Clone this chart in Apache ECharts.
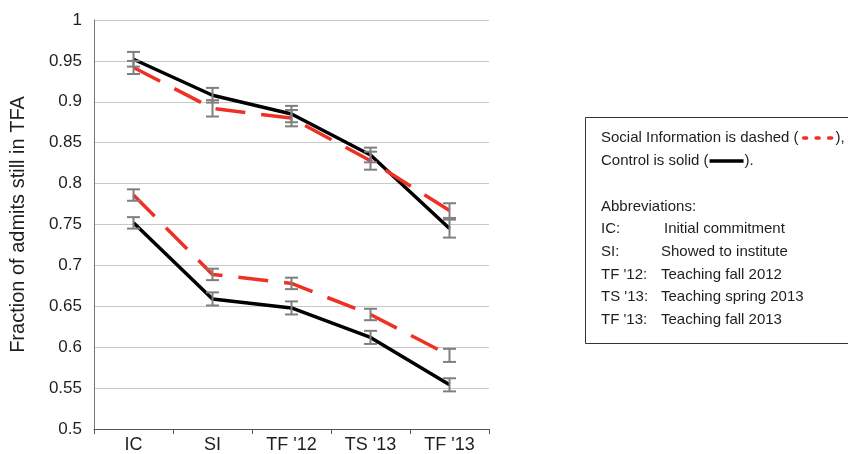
<!DOCTYPE html>
<html>
<head>
<meta charset="utf-8">
<script src="https://cdn.jsdelivr.net/npm/echarts@6/dist/echarts.min.js"></script>
<style>html,body{margin:0;padding:0;background:#fff;}#c{width:848px;height:454px;}</style>
</head>
<body>
<div id="c"></div>
<script>
// ---- data ----
const categories = ['IC', 'SI', "TF '12", "TS '13", "TF '13"];
const socialUpper = [0.942, 0.892, 0.880, 0.828, 0.767];
const socialUpperErr = [0.008, 0.010, 0.010, 0.011, 0.009];
const controlUpper = [0.952, 0.908, 0.885, 0.835, 0.745];
const controlUpperErr = [0.009, 0.009, 0.010, 0.009, 0.011];
const socialLower = [0.786, 0.689, 0.678, 0.640, 0.590];
const socialLowerErr = [0.007, 0.007, 0.007, 0.007, 0.008];
const controlLower = [0.752, 0.659, 0.648, 0.612, 0.554];
const controlLowerErr = [0.007, 0.008, 0.008, 0.008, 0.008];
const yTicks = { min: 0.5, max: 1, interval: 0.05 };
const legendLine1 = 'Social Information is dashed (';
const legendLine2 = 'Control is solid (';
const abbrevTitle = 'Abbreviations:';
const abbrevKeys = ['IC:', 'SI:', "TF '12:", "TS '13:", "TF '13:"];
const abbrevVals = ['Initial commitment', 'Showed to institute', 'Teaching fall 2012', 'Teaching spring 2013', 'Teaching fall 2013'];

// ---- style ----
const FONT = "'Liberation Sans', Arial, Helvetica, sans-serif";
const RED = '#ee3124';
const BLACK = '#000000';
const ERR = '#7f7f7f';
const TXT = '#1e1e1e';

function measure(text, size) {
  const c = document.createElement('canvas').getContext('2d');
  c.font = size + 'px ' + FONT;
  return c.measureText(text).width;
}

function lineSeries(name, data, color, dashed) {
  return {
    type: 'line', name, data, symbol: 'none', z: 3,
    lineStyle: { color, width: 3.5, type: dashed ? [30, 16] : 'solid', cap: 'butt' },
    emphasis: { disabled: true }
  };
}

function errSeries(name, vals, errs) {
  return {
    type: 'custom', name, z: 5,
    renderItem: function (params, api) {
      const i = api.value(0), v = api.value(1), e = api.value(2);
      const hi = api.coord([i, v + e]);
      const lo = api.coord([i, v - e]);
      const hw = 6.5;
      const st = { stroke: ERR, lineWidth: 2 };
      return {
        type: 'group', children: [
          { type: 'line', shape: { x1: hi[0], y1: hi[1], x2: lo[0], y2: lo[1] }, style: st },
          { type: 'line', shape: { x1: hi[0] - hw, y1: hi[1], x2: hi[0] + hw, y2: hi[1] }, style: st },
          { type: 'line', shape: { x1: lo[0] - hw, y1: lo[1], x2: lo[0] + hw, y2: lo[1] }, style: st }
        ]
      };
    },
    data: vals.map((v, i) => [i, v, errs[i]]),
    encode: { x: 0, y: 1 }
  };
}

// ---- legend box graphics ----
const LFS = 15;
const lx = 601;
const g = [];
g.push({ type: 'rect', shape: { x: 585.5, y: 117.5, width: 300, height: 226 }, style: { fill: '#fff', stroke: '#333', lineWidth: 1 }, z: 1 });
function txt(x, y, s, color) {
  g.push({ type: 'text', x, y, style: { text: s, font: LFS + 'px ' + FONT, fill: color || TXT, verticalAlign: 'middle', align: 'left' }, z: 2 });
}
const w1 = measure(legendLine1, LFS);
txt(lx, 138, legendLine1);
// red dashes
const dx0 = lx + w1 + 5;
for (let k = 0; k < 3; k++) {
  g.push({ type: 'line', shape: { x1: dx0 + k * 12.5, y1: 138, x2: dx0 + k * 12.5 + 3, y2: 138 }, style: { stroke: RED, lineWidth: 3.5, lineCap: 'round' }, z: 2 });
}
txt(dx0 + 32, 138, '),');
const w2 = measure(legendLine2, LFS);
txt(lx, 161, legendLine2);
g.push({ type: 'line', shape: { x1: lx + w2 + 1, y1: 161, x2: lx + w2 + 35, y2: 161 }, style: { stroke: BLACK, lineWidth: 3.5 }, z: 2 });
txt(lx + w2 + 36, 161, ').');
txt(lx, 207, abbrevTitle);
const rowY = [229, 252, 274.5, 297, 320];
for (let k = 0; k < abbrevKeys.length; k++) {
  txt(lx, rowY[k], abbrevKeys[k]);
  txt(k === 0 ? 664 : 661, rowY[k], abbrevVals[k]);
}

const chart = echarts.init(document.getElementById('c'), null, { renderer: 'canvas' });
chart.setOption({
  animation: false,
  backgroundColor: '#fff',
  textStyle: { fontFamily: FONT },
  grid: { left: 94, right: 359, top: 20, bottom: 21, containLabel: false },
  xAxis: {
    type: 'category', data: categories, boundaryGap: true,
    axisLine: { lineStyle: { color: '#555', width: 1 } },
    axisTick: { show: true, length: 5, lineStyle: { color: '#555' } },
    axisLabel: { color: TXT, fontSize: 18, margin: 7, fontFamily: FONT },
    splitLine: { show: false }
  },
  yAxis: {
    type: 'value', min: yTicks.min, max: yTicks.max, interval: yTicks.interval,
    name: 'Fraction of admits still in TFA', nameLocation: 'middle', nameGap: 66,
    nameTextStyle: { color: TXT, fontSize: 20, fontFamily: FONT },
    axisLine: { show: true, lineStyle: { color: '#777', width: 1 } },
    axisTick: { show: false },
    axisLabel: { color: TXT, fontSize: 17, margin: 12, fontFamily: FONT,
      formatter: v => String(Math.round(v * 100) / 100) },
    splitLine: { show: true, lineStyle: { color: '#c8c8c8', width: 1 } }
  },
  series: [
    lineSeries('Control upper', controlUpper, BLACK, false),
    lineSeries('Social upper', socialUpper, RED, true),
    lineSeries('Control lower', controlLower, BLACK, false),
    lineSeries('Social lower', socialLower, RED, true),
    errSeries('Control upper err', controlUpper, controlUpperErr),
    errSeries('Social upper err', socialUpper, socialUpperErr),
    errSeries('Control lower err', controlLower, controlLowerErr),
    errSeries('Social lower err', socialLower, socialLowerErr)
  ],
  graphic: g
});
</script>
</body>
</html>
